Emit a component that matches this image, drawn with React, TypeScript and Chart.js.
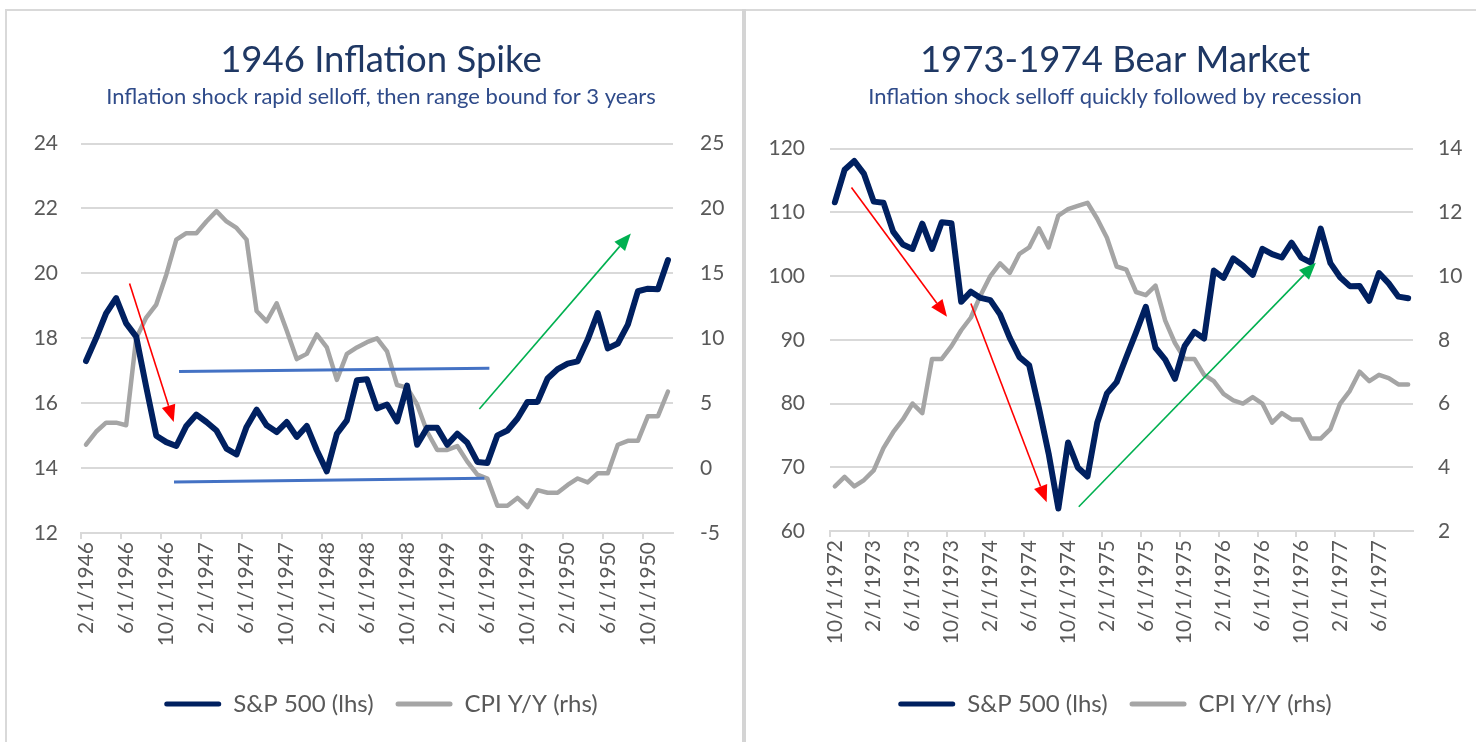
import React, { useEffect, useRef } from "react";
import { Chart, registerables } from "chart.js";

Chart.register(...registerables);

// ---------------- Categories ----------------
const months1946: string[] = [
  "2/1/1946", "3/1/1946", "4/1/1946", "5/1/1946", "6/1/1946", "7/1/1946", "8/1/1946", "9/1/1946", "10/1/1946", "11/1/1946", "12/1/1946",
  "1/1/1947", "2/1/1947", "3/1/1947", "4/1/1947", "5/1/1947", "6/1/1947", "7/1/1947", "8/1/1947", "9/1/1947", "10/1/1947", "11/1/1947", "12/1/1947",
  "1/1/1948", "2/1/1948", "3/1/1948", "4/1/1948", "5/1/1948", "6/1/1948", "7/1/1948", "8/1/1948", "9/1/1948", "10/1/1948", "11/1/1948", "12/1/1948",
  "1/1/1949", "2/1/1949", "3/1/1949", "4/1/1949", "5/1/1949", "6/1/1949", "7/1/1949", "8/1/1949", "9/1/1949", "10/1/1949", "11/1/1949", "12/1/1949",
  "1/1/1950", "2/1/1950", "3/1/1950", "4/1/1950", "5/1/1950", "6/1/1950", "7/1/1950", "8/1/1950", "9/1/1950", "10/1/1950", "11/1/1950", "12/1/1950",
];

const months1973: string[] = [
  "10/1/1972", "11/1/1972", "12/1/1972",
  "1/1/1973", "2/1/1973", "3/1/1973", "4/1/1973", "5/1/1973", "6/1/1973", "7/1/1973", "8/1/1973", "9/1/1973", "10/1/1973", "11/1/1973", "12/1/1973",
  "1/1/1974", "2/1/1974", "3/1/1974", "4/1/1974", "5/1/1974", "6/1/1974", "7/1/1974", "8/1/1974", "9/1/1974", "10/1/1974", "11/1/1974", "12/1/1974",
  "1/1/1975", "2/1/1975", "3/1/1975", "4/1/1975", "5/1/1975", "6/1/1975", "7/1/1975", "8/1/1975", "9/1/1975", "10/1/1975", "11/1/1975", "12/1/1975",
  "1/1/1976", "2/1/1976", "3/1/1976", "4/1/1976", "5/1/1976", "6/1/1976", "7/1/1976", "8/1/1976", "9/1/1976", "10/1/1976", "11/1/1976", "12/1/1976",
  "1/1/1977", "2/1/1977", "3/1/1977", "4/1/1977", "5/1/1977", "6/1/1977", "7/1/1977", "8/1/1977", "9/1/1977",
];

// ---------------- Series: 1946 panel ----------------
const sp1946: number[] = [
  17.3, 18.0, 18.77, 19.24, 18.46, 18.05, 16.5, 15.0, 14.8, 14.68, 15.3,
  15.65, 15.42, 15.16, 14.6, 14.42, 15.27, 15.8, 15.32, 15.11, 15.42, 14.96, 15.3,
  14.55, 13.9, 15.06, 15.47, 16.71, 16.74, 15.84, 15.96, 15.44, 16.54, 14.72, 15.24,
  15.24, 14.72, 15.06, 14.78, 14.19, 14.16, 15.01, 15.16, 15.53, 16.04, 16.04, 16.76,
  17.05, 17.22, 17.29, 17.96, 18.78, 17.69, 17.84, 18.42, 19.45, 19.53, 19.51, 20.41,
];
const cpi1946: number[] = [
  1.8, 2.8, 3.5, 3.5, 3.3, 10.0, 11.6, 12.6, 14.9, 17.6, 18.1,
  18.1, 19.0, 19.8, 19.0, 18.5, 17.6, 12.1, 11.3, 12.7, 10.6, 8.4, 8.8,
  10.3, 9.3, 6.8, 8.8, 9.3, 9.7, 10.0, 9.0, 6.4, 6.2, 4.9, 2.8,
  1.4, 1.4, 1.7, 0.5, -0.5, -0.8, -2.9, -2.9, -2.3, -3.0, -1.7, -1.9,
  -1.9, -1.3, -0.8, -1.1, -0.4, -0.4, 1.8, 2.1, 2.1, 4.0, 4.0, 5.9,
];

// ---------------- Series: 1973 panel ----------------
const sp1973: number[] = [
  111.58, 116.67, 118.05,
  116.03, 111.68, 111.52, 106.97, 104.95, 104.26, 108.22, 104.25, 108.43, 108.29, 95.96, 97.55,
  96.57, 96.22, 93.98, 90.31, 87.28, 86.0, 79.31, 72.15, 63.54, 73.9, 69.97, 68.56,
  76.98, 81.59, 83.36, 87.3, 91.15, 95.19, 88.75, 86.88, 83.87, 89.04, 91.24, 90.19,
  100.86, 99.71, 102.77, 101.64, 100.18, 104.28, 103.44, 102.91, 105.24, 102.9, 102.1, 107.46,
  102.03, 99.82, 98.42, 98.44, 96.12, 100.48, 98.85, 96.77, 96.53,
];
const cpi1973: number[] = [
  3.4, 3.7, 3.4,
  3.6, 3.9, 4.6, 5.1, 5.5, 6.0, 5.7, 7.4, 7.4, 7.8, 8.3, 8.7,
  9.4, 10.0, 10.4, 10.1, 10.7, 10.9, 11.5, 10.9, 11.9, 12.1, 12.2, 12.3,
  11.8, 11.2, 10.3, 10.2, 9.5, 9.4, 9.7, 8.6, 7.9, 7.4, 7.4, 6.9,
  6.7, 6.3, 6.1, 6.0, 6.2, 6.0, 5.4, 5.7, 5.5, 5.5, 4.9, 4.9,
  5.2, 6.0, 6.4, 7.0, 6.7, 6.9, 6.8, 6.6, 6.6,
];

// ---------------- Axis ticks ----------------
const yLeft1946 = { min: 12, max: 24, step: 2 };
const yRight1946 = { min: -5, max: 25, step: 5 };
const yLeft1973 = { min: 60, max: 120, step: 10 };
const yRight1973 = { min: 2, max: 14, step: 2 };

// ---------------- Annotations (category index, lhs value) ----------------
type Seg = { x0: number; y0: number; x1: number; y1: number };
const rangeLines1946: Seg[] = [
  { x0: 9.27, y0: 16.98, x1: 40.2, y1: 17.08 },
  { x0: 8.77, y0: 13.57, x1: 39.7, y1: 13.69 },
];
const redArrows1946: Seg[] = [{ x0: 4.34, y0: 19.69, x1: 8.74, y1: 15.42 }];
const greenArrows1946: Seg[] = [{ x0: 39.2, y0: 15.82, x1: 54.3, y1: 21.23 }];
const rangeLines1973: Seg[] = [];
const redArrows1973: Seg[] = [
  { x0: 1.71, y0: 113.9, x1: 11.54, y1: 93.6 },
  { x0: 14.0, y0: 95.7, x1: 21.8, y1: 64.5 },
];
const greenArrows1973: Seg[] = [{ x0: 25.1, y0: 63.8, x1: 49.5, y1: 102.1 }];

// ---------------- Styles ----------------
const FONT = "Lato, 'Open Sans', sans-serif";
const NAVY = "#002060";
const GRAY = "#a5a5a5";
const GRID = "#d9d9d9";
const LABEL = "#595959";
const TITLE_COLOR = "#1f3864";
const SUB_COLOR = "#2f4b8a";
const BLUE = "#4472c4";
const RED = "#ff0000";
const GREEN = "#00b050";

function drawArrow(ctx: CanvasRenderingContext2D, x0: number, y0: number, x1: number, y1: number, color: string) {
  const ang = Math.atan2(y1 - y0, x1 - x0);
  const headLen = 17;
  const headW = 14;
  const bx = x1 - headLen * Math.cos(ang);
  const by = y1 - headLen * Math.sin(ang);
  ctx.strokeStyle = color;
  ctx.lineWidth = 1.6;
  ctx.lineCap = "butt";
  ctx.beginPath();
  ctx.moveTo(x0, y0);
  ctx.lineTo(bx, by);
  ctx.stroke();
  ctx.fillStyle = color;
  ctx.beginPath();
  ctx.moveTo(x1, y1);
  ctx.lineTo(bx + (headW / 2) * Math.sin(ang), by - (headW / 2) * Math.cos(ang));
  ctx.lineTo(bx - (headW / 2) * Math.sin(ang), by + (headW / 2) * Math.cos(ang));
  ctx.closePath();
  ctx.fill();
}

function makeAnnotationPlugin(lines: Seg[], reds: Seg[], greens: Seg[]) {
  return {
    id: "shapes",
    afterDatasetsDraw(chart: any) {
      const ctx: CanvasRenderingContext2D = chart.ctx;
      const xs = chart.scales.x;
      const ys = chart.scales.yL;
      const px = (v: number) => xs.getPixelForValue(v);
      const py = (v: number) => ys.getPixelForValue(v);
      ctx.save();
      lines.forEach((s) => {
        ctx.strokeStyle = BLUE;
        ctx.lineWidth = 3;
        ctx.lineCap = "butt";
        ctx.beginPath();
        ctx.moveTo(px(s.x0), py(s.y0));
        ctx.lineTo(px(s.x1), py(s.y1));
        ctx.stroke();
      });
      reds.forEach((s) => drawArrow(ctx, px(s.x0), py(s.y0), px(s.x1), py(s.y1), RED));
      greens.forEach((s) => drawArrow(ctx, px(s.x0), py(s.y0), px(s.x1), py(s.y1), GREEN));
      ctx.restore();
    },
  };
}

type PanelParams = {
  title: string;
  subtitle: string;
  labels: string[];
  sp: number[];
  cpi: number[];
  yL: { min: number; max: number; step: number };
  yR: { min: number; max: number; step: number };
  padLeft: number;
  yLWidth: number;
  yRWidth: number;
  yLPad: number;
  yRPad: number;
  subPadBottom: number;
  xAxisHeight: number;
  lines: Seg[];
  reds: Seg[];
  greens: Seg[];
};

function buildConfig(p: PanelParams): any {
  const tickFont = { family: FONT, size: 21 };
  return {
    type: "line",
    data: {
      labels: p.labels,
      datasets: [
        {
          label: "S&P 500 (lhs)",
          data: p.sp,
          yAxisID: "yL",
          borderColor: NAVY,
          backgroundColor: NAVY,
          borderWidth: 6,
          pointRadius: 0,
          tension: 0,
          borderJoinStyle: "round",
          borderCapStyle: "round",
        },
        {
          label: "CPI Y/Y (rhs)",
          data: p.cpi,
          yAxisID: "yR",
          borderColor: GRAY,
          backgroundColor: GRAY,
          borderWidth: 4.5,
          pointRadius: 0,
          tension: 0,
          borderJoinStyle: "round",
          borderCapStyle: "round",
        },
      ],
    },
    options: {
      animation: false,
      responsive: false,
      devicePixelRatio: 1,
      events: [],
      layout: { padding: { left: p.padLeft, right: 0, top: 0, bottom: 16 } },
      plugins: {
        title: {
          display: true,
          text: p.title,
          color: TITLE_COLOR,
          font: { family: FONT, size: 36.5, weight: "normal", lineHeight: 1.2 },
          padding: { top: 38, bottom: 0 },
        },
        subtitle: {
          display: true,
          text: p.subtitle,
          color: SUB_COLOR,
          font: { family: FONT, size: 22, weight: "normal", lineHeight: 1.2 },
          padding: { top: 2, bottom: p.subPadBottom },
        },
        legend: {
          display: true,
          position: "bottom",
          labels: {
            boxWidth: 57,
            boxHeight: 5,
            padding: 22,
            color: LABEL,
            useBorderRadius: true,
            font: { family: FONT, size: 24 },
            generateLabels: (chart: any) =>
              chart.data.datasets.map((ds: any, i: number) => ({
                text: ds.label,
                fillStyle: ds.borderColor,
                strokeStyle: ds.borderColor,
                lineWidth: 0,
                hidden: false,
                datasetIndex: i,
                fontColor: LABEL,
                borderRadius: 2.5,
              })),
          },
        },
        tooltip: { enabled: false },
      },
      scales: {
        x: {
          type: "category",
          offset: true,
          grid: {
            offset: true,
            drawOnChartArea: false,
            drawTicks: true,
            tickLength: 6,
            lineWidth: 2,
            color: (c: any) => (c.index !== undefined && c.index % 4 === 0 ? GRID : "rgba(0,0,0,0)"),
          },
          border: { display: true, color: GRID, width: 2 },
          ticks: {
            autoSkip: false,
            minRotation: 90,
            maxRotation: 90,
            padding: 3,
            color: LABEL,
            font: tickFont,
            callback: (_v: any, i: number) => (i % 4 === 0 ? p.labels[i] : ""),
          },
          afterFit: (s: any) => {
            s.height = p.xAxisHeight;
          },
        },
        yL: {
          type: "linear",
          position: "left",
          min: p.yL.min,
          max: p.yL.max,
          ticks: { stepSize: p.yL.step, padding: p.yLPad, color: LABEL, font: tickFont },
          grid: { color: GRID, lineWidth: 2, drawTicks: false },
          border: { display: false },
          afterFit: (s: any) => {
            s.width = p.yLWidth;
          },
        },
        yR: {
          type: "linear",
          position: "right",
          min: p.yR.min,
          max: p.yR.max,
          ticks: { stepSize: p.yR.step, padding: p.yRPad, color: LABEL, font: tickFont },
          grid: { display: false, drawTicks: false },
          border: { display: false },
          afterFit: (s: any) => {
            s.width = p.yRWidth;
          },
        },
      },
    },
    plugins: [makeAnnotationPlugin(p.lines, p.reds, p.greens)],
  };
}

export default function App() {
  const ref1 = useRef<HTMLCanvasElement>(null);
  const ref2 = useRef<HTMLCanvasElement>(null);

  useEffect(() => {
    const c1 = new Chart(
      ref1.current as HTMLCanvasElement,
      buildConfig({
        title: "1946 Inflation Spike",
        subtitle: "Inflation shock rapid selloff, then range bound for 3 years",
        labels: months1946,
        sp: sp1946,
        cpi: cpi1946,
        yL: yLeft1946,
        yR: yRight1946,
        padLeft: 18,
        yLWidth: 63,
        yRWidth: 71,
        yLPad: 23,
        yRPad: 27,
        subPadBottom: 33.4,
        xAxisHeight: 137,
        lines: rangeLines1946,
        reds: redArrows1946,
        greens: greenArrows1946,
      })
    );
    const c2 = new Chart(
      ref2.current as HTMLCanvasElement,
      buildConfig({
        title: "1973-1974 Bear Market",
        subtitle: "Inflation shock selloff quickly followed by recession",
        labels: months1973,
        sp: sp1973,
        cpi: cpi1973,
        yL: yLeft1973,
        yR: yRight1973,
        padLeft: 10,
        yLWidth: 76,
        yRWidth: 63,
        yLPad: 25,
        yRPad: 25,
        subPadBottom: 38.4,
        xAxisHeight: 139,
        lines: rangeLines1973,
        reds: redArrows1973,
        greens: greenArrows1973,
      })
    );
    return () => {
      c1.destroy();
      c2.destroy();
    };
  }, []);

  return (
    <div
      style={{
        position: "fixed",
        left: 0,
        top: 0,
        width: 1476,
        height: 742,
        background: "#ffffff",
        overflow: "hidden",
      }}
    >
      <canvas
        ref={ref1}
        width={744}
        height={742}
        style={{ position: "absolute", left: 0, top: 0, width: 744, height: 742 }}
      />
      <canvas
        ref={ref2}
        width={732}
        height={742}
        style={{ position: "absolute", left: 744, top: 0, width: 732, height: 742 }}
      />
      <div style={{ position: "absolute", left: 5, top: 9, width: 1471, height: 2, background: "#d9d9d9" }} />
      <div style={{ position: "absolute", left: 5, top: 9, width: 2, height: 733, background: "#d9d9d9" }} />
      <div style={{ position: "absolute", left: 742, top: 9, width: 4, height: 733, background: "#d4d4d4" }} />
    </div>
  );
}
